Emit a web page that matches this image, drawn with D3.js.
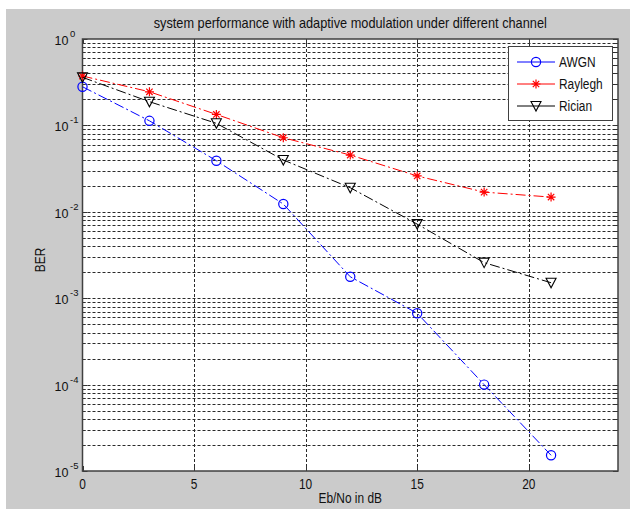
<!DOCTYPE html>
<html><head><meta charset="utf-8">
<script src="https://cdn.jsdelivr.net/npm/d3@7"></script>
<style>body{margin:0;background:#fff} text{font-family:"Liberation Sans",Arial,sans-serif}</style>
</head><body><svg id="c" width="638" height="515"></svg>
<script>
const ebno = [0, 3, 6, 9, 12, 15, 18, 21];
const awgn = [0.28, 0.113, 0.039, 0.0123, 0.00177, 0.00067, 0.0001, 0.0000152];
const rayleigh = [0.373, 0.245, 0.134, 0.072, 0.0454, 0.026, 0.0169, 0.0148];
const rician = [0.36, 0.188, 0.1057, 0.0398, 0.019, 0.0072, 0.00258, 0.00151];
const seriesNames = ["AWGN", "Raylegh", "Rician"];
const xTicks = [0, 5, 10, 15, 20];
const yTickExps = [0, -1, -2, -3, -4, -5];
const titleText = "system performance with adaptive modulation under different channel";
const xLabel = "Eb/No in dB";
const yLabel = "BER";

const svg = d3.select("#c");
const L = 82.5, T = 39, R = 618, B = 471;
const x = d3.scaleLinear().domain([0, 24]).range([L, R]);
const y = d3.scaleLog().domain([1e-5, 1]).range([B, T]);
const SQ = 0.85; // horizontal squeeze of the reference's text
function squeeze(t) {
  const n = t.node();
  const w = n.getComputedTextLength();
  t.attr("textLength", w * SQ).attr("lengthAdjust", "spacingAndGlyphs");
  return t;
}

// figure background
svg.append("rect").attr("x", 6).attr("y", 9).attr("width", 624).attr("height", 500).attr("fill", "#cbcbcb");
svg.append("rect").attr("x", L).attr("y", T).attr("width", R - L).attr("height", B - T).attr("fill", "#fff");

// grid
const minor = [];
for (let e = -5; e < 0; e++) for (let m = 1; m <= 9; m++) minor.push(m * Math.pow(10, e));
const g = svg.append("g").attr("stroke", "#2a2a2a").attr("stroke-width", 1).attr("stroke-dasharray", "3,2").attr("fill", "none");
minor.filter(v => v > 1e-5).forEach(v => {
  const yy = Math.round(y(v)) + 0.5;
  g.append("line").attr("x1", L).attr("x2", R).attr("y1", yy).attr("y2", yy);
});
xTicks.filter(v => v > 0).forEach(v => {
  const xx = Math.round(x(v)) + 0.5;
  g.append("line").attr("x1", xx).attr("x2", xx).attr("y1", T).attr("y2", B);
});

// ticks (inward)
const tk = svg.append("g").attr("stroke", "#333").attr("stroke-width", 1);
xTicks.forEach(v => {
  const xx = Math.round(x(v)) + 0.5;
  tk.append("line").attr("x1", xx).attr("x2", xx).attr("y1", B).attr("y2", B - 5);
  tk.append("line").attr("x1", xx).attr("x2", xx).attr("y1", T).attr("y2", T + 5);
});
minor.concat([1]).forEach(v => {
  const yy = Math.round(y(v)) + 0.5;
  const len = Math.abs(Math.log10(v) - Math.round(Math.log10(v))) < 1e-9 ? 5 : 3;
  tk.append("line").attr("x1", L).attr("x2", L + len).attr("y1", yy).attr("y2", yy);
  tk.append("line").attr("x1", R).attr("x2", R - len).attr("y1", yy).attr("y2", yy);
});

// box
svg.append("rect").attr("x", L).attr("y", T).attr("width", R - L).attr("height", B - T)
  .attr("fill", "none").attr("stroke", "#404040").attr("stroke-width", 1.5);

// tick labels
xTicks.forEach(v => {
  squeeze(svg.append("text").attr("x", x(v)).attr("y", B + 18).attr("text-anchor", "middle")
    .attr("font-size", 14).attr("fill", "#111").text(v));
});
yTickExps.forEach(e => {
  const yy = y(Math.pow(10, e));
  svg.append("text").attr("x", L - 14).attr("y", yy + 6)
    .attr("text-anchor", "end").attr("font-size", 12.5).attr("fill", "#111").text("10");
  svg.append("text").attr("x", L - 12.5).attr("y", yy - 2)
    .attr("text-anchor", "start").attr("font-size", 9.5).attr("fill", "#111").text(e);
});

// labels
squeeze(svg.append("text").attr("x", (L + R) / 2).attr("y", 28).attr("text-anchor", "middle")
  .attr("font-size", 15).attr("fill", "#111").text(titleText));
squeeze(svg.append("text").attr("x", (L + R) / 2).attr("y", 503).attr("text-anchor", "middle")
  .attr("font-size", 14).attr("fill", "#111").text(xLabel));
squeeze(svg.append("text").attr("transform", `translate(45,${(T + B) / 2 + 5}) rotate(-90)`).attr("text-anchor", "middle")
  .attr("font-size", 14).attr("fill", "#111").text(yLabel));

// series
const series = [
  {name: seriesNames[0], vals: awgn, color: "#0000ff", marker: "o"},
  {name: seriesNames[1], vals: rayleigh, color: "#ff0000", marker: "*"},
  {name: seriesNames[2], vals: rician, color: "#000000", marker: "v"}
];
function drawMarker(sel, type, color) {
  if (type === "o") sel.append("circle").attr("r", 4.6).attr("fill", "none").attr("stroke", color).attr("stroke-width", 1.2);
  else if (type === "*") sel.append("path").attr("d", "M-4.5,0H4.5M0,-4.5V4.5M-3.2,-3.2L3.2,3.2M-3.2,3.2L3.2,-3.2").attr("stroke", color).attr("stroke-width", 1.2);
  else sel.append("path").attr("d", "M-5,-4.5L5,-4.5L0,5Z").attr("fill", "none").attr("stroke", color).attr("stroke-width", 1.1);
}
const line = d3.line().x(d => x(d[0])).y(d => y(d[1]));
series.forEach(s => {
  const pts = ebno.map((e, i) => [e, s.vals[i]]);
  svg.append("path").attr("d", line(pts)).attr("fill", "none").attr("stroke", s.color)
    .attr("stroke-width", 1).attr("stroke-dasharray", "10,3,2,3");
  pts.forEach(p => {
    const m = svg.append("g").attr("transform", `translate(${x(p[0])},${y(p[1])})`);
    drawMarker(m, s.marker, s.color);
  });
});

// legend
const lg = svg.append("g");
lg.append("rect").attr("x", 508.5).attr("y", 46.5).attr("width", 104).attr("height", 74)
  .attr("fill", "#fff").attr("stroke", "#404040").attr("stroke-width", 1);
series.forEach((s, i) => {
  const yy = 62 + i * 22;
  lg.append("line").attr("x1", 517).attr("x2", 555).attr("y1", yy).attr("y2", yy).attr("stroke", s.color).attr("stroke-width", 1);
  drawMarker(lg.append("g").attr("transform", `translate(536,${yy})`), s.marker, s.color);
  squeeze(lg.append("text").attr("x", 559).attr("y", yy + 5).attr("font-size", 14).attr("fill", "#111").text(s.name));
});
</script></body></html>
